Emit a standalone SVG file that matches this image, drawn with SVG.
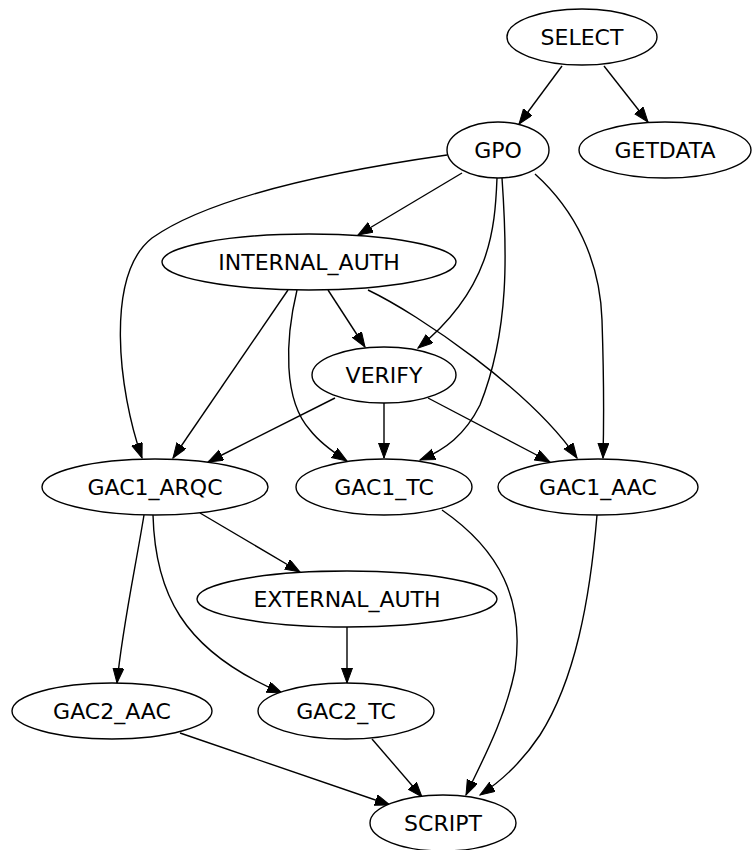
<svg xmlns="http://www.w3.org/2000/svg" width="752" height="850" viewBox="0 0 752 850">
<style>
.n ellipse{fill:#fff;stroke:#000;stroke-width:1.4}
.n text{font-family:"DejaVu Sans",sans-serif;font-size:22px;text-anchor:middle;fill:#000}
.e path{fill:none;stroke:#000;stroke-width:1.4;marker-end:url(#ah)}
</style>
<defs>
<marker id="ah" markerUnits="userSpaceOnUse" markerWidth="16" markerHeight="12" refX="15" refY="5.5" orient="auto">
<path d="M0,0 L15,5.5 L0,11 z" fill="#000" stroke="#000" stroke-width="1"/>
</marker>
</defs>
<rect width="752" height="850" fill="#fff"/>
<g id="edges" class="e">
<path d="M562,66 L519,124"/>
<path d="M604,66 L648,122"/>
<path d="M447,155 C370,166 220,190 152,238 C105,275 118,390 142,458"/>
<path d="M462,173 L358,235"/>
<path d="M497,178 C495,230 490,290 418,348"/>
<path d="M502,178 C507,250 510,330 480,405 C465,435 445,450 420,460"/>
<path d="M535,174 C575,210 600,260 602,320 C604,380 604,420 603,458"/>
<path d="M288,290 L173,458"/>
<path d="M297,290 C285,340 283,400 310,430 C320,443 333,452 347,461"/>
<path d="M328,290 L365,347"/>
<path d="M368,290 C420,315 530,390 577,458"/>
<path d="M335,398 L208,462"/>
<path d="M384,403 L384,458"/>
<path d="M428,398 L550,462"/>
<path d="M200,513 L300,572"/>
<path d="M144,515 C135,570 122,630 117,683"/>
<path d="M153,515 C155,590 180,650 282,693"/>
<path d="M347,626 L347,683"/>
<path d="M180,733 L390,805"/>
<path d="M372,739 L422,797"/>
<path d="M442,510 C500,550 525,600 515,670 C505,720 480,765 466,795"/>
<path d="M597,515 C590,600 575,680 540,735 C520,765 500,782 480,795"/>
</g>
<g id="SELECT" class="n"><ellipse cx="582" cy="37" rx="75" ry="28"/><text x="582" y="45">SELECT</text></g>
<g id="GPO" class="n"><ellipse cx="498" cy="150" rx="51" ry="28"/><text x="498" y="158">GPO</text></g>
<g id="GETDATA" class="n"><ellipse cx="665" cy="150" rx="86" ry="28"/><text x="665" y="158">GETDATA</text></g>
<g id="INTERNAL_AUTH" class="n"><ellipse cx="309" cy="262" rx="147" ry="28"/><text x="309" y="270">INTERNAL_AUTH</text></g>
<g id="VERIFY" class="n"><ellipse cx="384" cy="375" rx="72" ry="28"/><text x="384" y="383">VERIFY</text></g>
<g id="GAC1_ARQC" class="n"><ellipse cx="155" cy="487" rx="113" ry="28"/><text x="155" y="495">GAC1_ARQC</text></g>
<g id="GAC1_TC" class="n"><ellipse cx="384" cy="487" rx="88" ry="28"/><text x="384" y="495">GAC1_TC</text></g>
<g id="GAC1_AAC" class="n"><ellipse cx="598" cy="487" rx="100" ry="28"/><text x="598" y="495">GAC1_AAC</text></g>
<g id="EXTERNAL_AUTH" class="n"><ellipse cx="347" cy="599" rx="150" ry="28"/><text x="347" y="607">EXTERNAL_AUTH</text></g>
<g id="GAC2_AAC" class="n"><ellipse cx="112" cy="711" rx="100" ry="28"/><text x="112" y="719">GAC2_AAC</text></g>
<g id="GAC2_TC" class="n"><ellipse cx="346" cy="711" rx="88" ry="28"/><text x="346" y="719">GAC2_TC</text></g>
<g id="SCRIPT" class="n"><ellipse cx="443" cy="823" rx="73" ry="28"/><text x="443" y="831">SCRIPT</text></g>
</svg>
